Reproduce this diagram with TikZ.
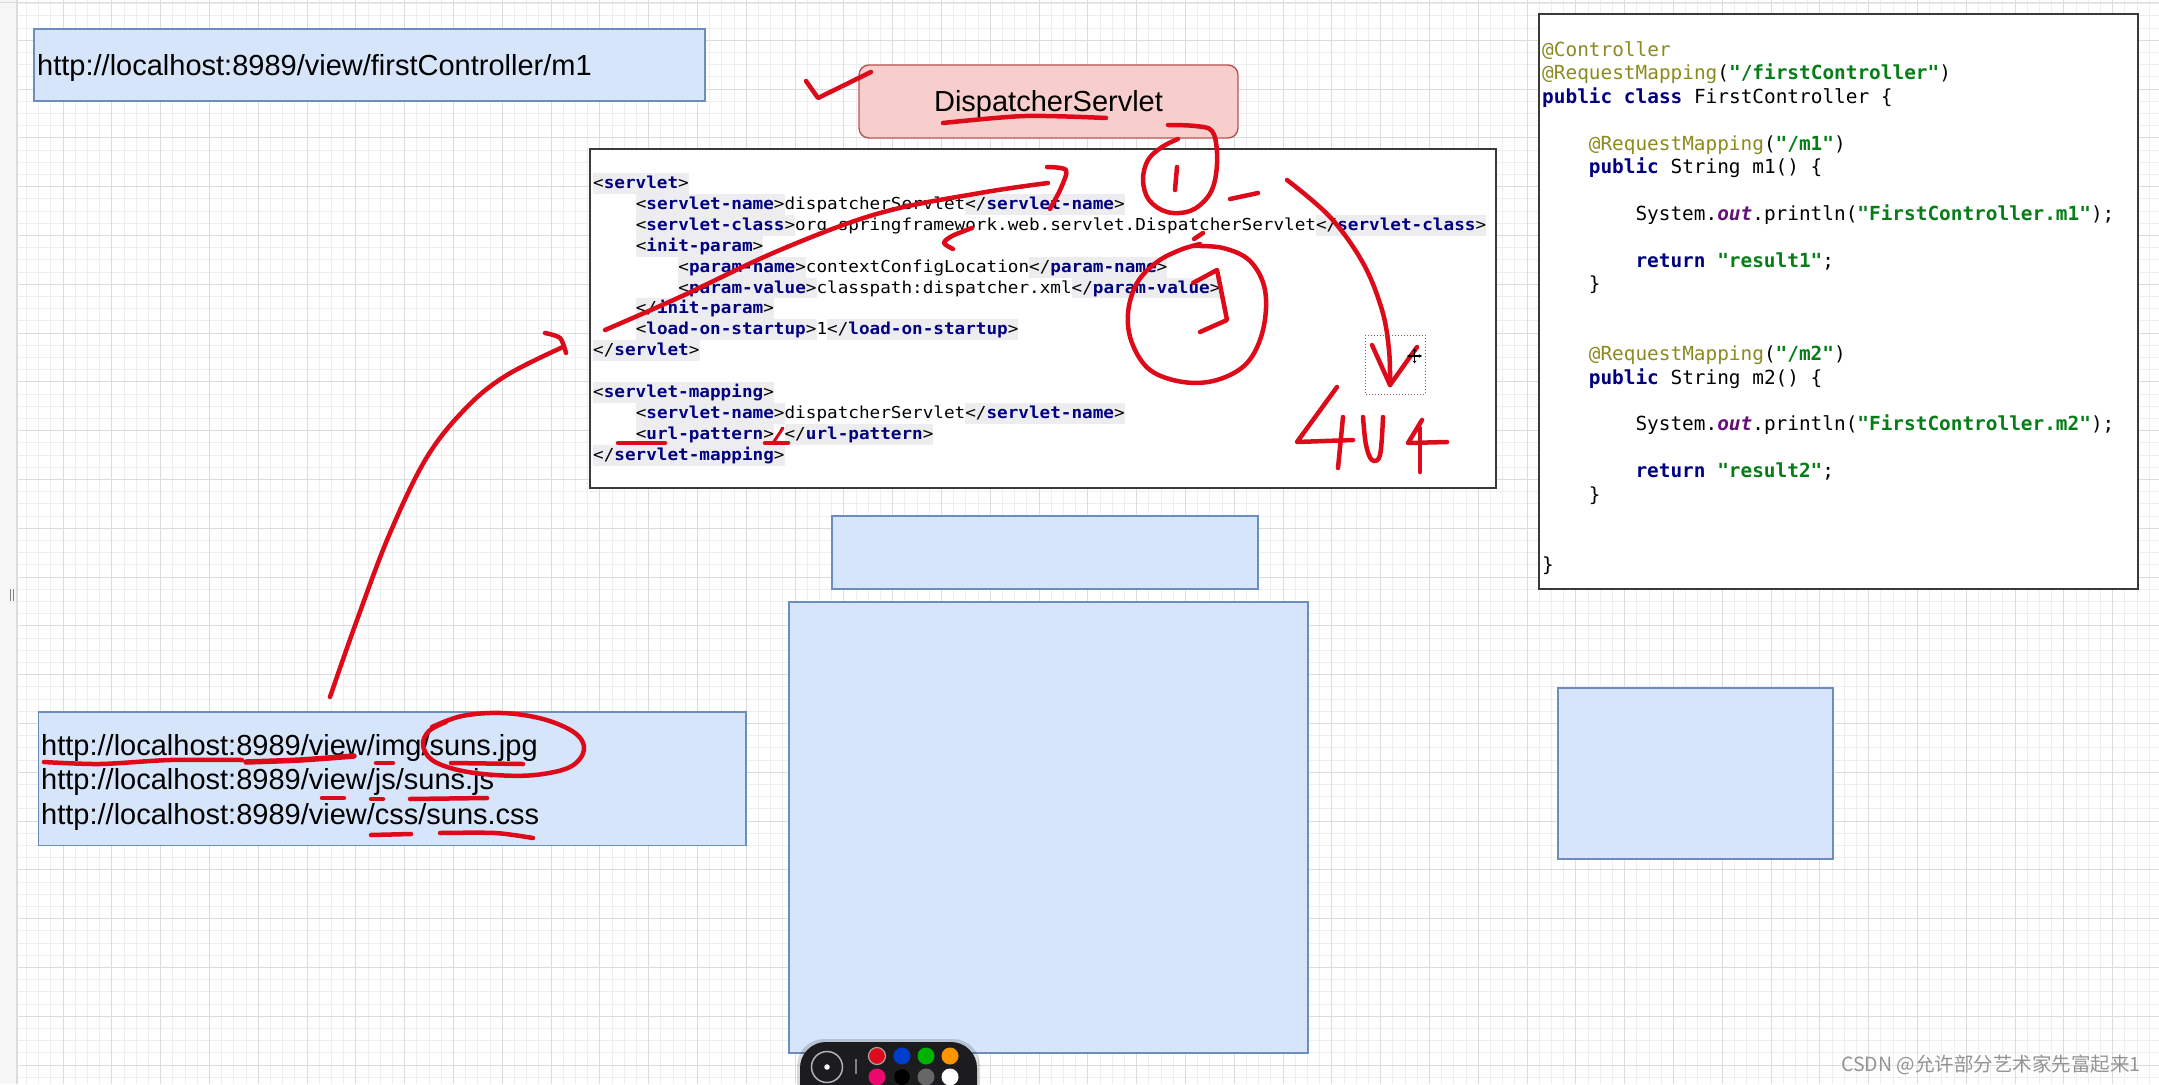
\documentclass[tikz,border=0pt]{standalone}
\usepackage{fontspec}
\setmainfont{Liberation Sans}
\newfontfamily\codefont{DejaVu Sans Mono}
\newfontfamily\xmlfont{DejaVu Sans Mono}[FakeStretch=1.07]
\newfontfamily\cjkfont{Noto Sans CJK SC}
\usetikzlibrary{arrows.meta}

\definecolor{gridMinor}{HTML}{EEEEEE}
\definecolor{gridMajor}{HTML}{DCDCDC}
\definecolor{stripCol}{HTML}{F6F6F6}
\definecolor{blueFill}{HTML}{D6E5FA}
\definecolor{blueBorder}{HTML}{6C8EBF}
\definecolor{pinkFill}{HTML}{F8CECC}
\definecolor{pinkBorder}{HTML}{B85450}
\definecolor{panelBorder}{HTML}{3A3A3A}
\definecolor{inkRed}{HTML}{DD0A1A}
\definecolor{tagBg}{HTML}{EDEDF0}
\definecolor{tagCol}{HTML}{000080}
\definecolor{kwCol}{HTML}{000080}
\definecolor{annCol}{HTML}{8C8A1E}
\definecolor{strCol}{HTML}{067D17}
\definecolor{fldCol}{HTML}{660E7A}
\definecolor{barCol}{HTML}{1C1C1E}

\newcommand{\xStrut}{\rule[-5.4pt]{0pt}{20.9pt}}
\newcommand{\xO}[1]{{\setlength{\fboxsep}{0pt}\colorbox{tagBg}{\xStrut<\textcolor{tagCol}{\bfseries #1}>}}}
\newcommand{\xC}[1]{{\setlength{\fboxsep}{0pt}\colorbox{tagBg}{\xStrut</\textcolor{tagCol}{\bfseries #1}>}}}
\newcommand{\cKw}[1]{\textcolor{kwCol}{\bfseries #1}}
\newcommand{\cAnn}[1]{\textcolor{annCol}{#1}}
\newcommand{\cStr}[1]{\textcolor{strCol}{\bfseries #1}}
\newcommand{\cFld}[1]{\textcolor{fldCol}{\bfseries\itshape #1}}

\begin{document}
\begin{tikzpicture}[x=1pt,y=-1pt,
  gridminor/.style={draw=gridMinor, line width=0.8pt},
  gridmajor/.style={draw=gridMajor, line width=1pt},
  bluebox/.style={draw=blueBorder, fill=blueFill, line width=1.4pt, inner sep=0pt, outer sep=0pt},
  pinkbox/.style={draw=pinkBorder, fill=pinkFill, line width=1.4pt, rounded corners=10pt, inner sep=0pt},
  panel/.style={draw=panelBorder, fill=white, line width=1.6pt, inner sep=0pt},
  urltext/.style={inner sep=0pt, anchor=base west, font=\fontsize{29}{34.5}\selectfont, text=black},
  xmlline/.style={inner sep=0pt, anchor=base west, font=\xmlfont\fontsize{16.5}{20.9}\selectfont},
  codeline/.style={inner sep=0pt, anchor=base west, font=\codefont\fontsize{19.4}{23.4}\selectfont},
  ink/.style={draw=inkRed, line width=4.5pt, line cap=round, line join=round},
  selrect/.style={draw=inkRed!45!gray, dotted, line width=1pt},
  cursor/.style={draw=black, line width=1.3pt, {Stealth[length=3pt,width=3.5pt]}-{Stealth[length=3pt,width=3.5pt]}},
  dot/.style={circle, inner sep=0pt, minimum size=17pt}
]
\clip (0,0) rectangle (2159,1084);
\fill[white] (0,0) rectangle (2159,1084);

% ---------- canvas grid ----------
\fill[stripCol] (0,0) rectangle (17,1084);
\foreach \i in {1,...,176} {\draw[gridminor] ({14.2+12.2*\i},0) -- ({14.2+12.2*\i},1084);}
\foreach \j in {1,...,90} {\draw[gridminor] (17,{-8.6+12.2*\j}) -- (2159,{-8.6+12.2*\j});}
\foreach \i in {0,...,43} {\draw[gridmajor] ({63+48.8*\i},0) -- ({63+48.8*\i},1084);}
\foreach \j in {-1,...,20} {\draw[gridmajor] (17,{89+48.8*\j}) -- (2159,{89+48.8*\j});}
\draw[gridMajor, line width=1.2pt] (17,0) -- (17,1084);
\draw[gridMajor, line width=1pt] (0,2) -- (2159,2);
\draw[gray, line width=1pt] (10.5,589) -- (10.5,601) (13.5,589) -- (13.5,601);

% ---------- boxes ----------
\node[bluebox, minimum width=671pt, minimum height=72pt] (urlTop) at (369.5,65) {};
\node[pinkbox, minimum width=379pt, minimum height=73pt] (ds) at (1048.5,101.5) {};
\node[panel, minimum width=906pt, minimum height=339pt] (xmlBox) at (1043,318.5) {};
\node[panel, minimum width=599pt, minimum height=575pt] (codeBox) at (1838.5,301.5) {};
\node[bluebox, minimum width=426pt, minimum height=73pt] (midSmall) at (1045,552.5) {};
\node[bluebox, minimum width=519pt, minimum height=451pt] (bigBox) at (1048.5,827.5) {};
\node[bluebox, minimum width=275pt, minimum height=171pt] (rightBox) at (1695.5,773.5) {};
\node[bluebox, minimum width=707.5pt, minimum height=133.5pt] (urlBottom) at (392.25,778.75) {};

% ---------- texts ----------
\node[urltext] (urlTopText) at (37,75) {http://localhost:8989/view/firstController/m1};
\node[urltext, anchor=base] (dsText) at (1048.5,111.7) {DispatcherServlet};
\node[urltext] (urlB1) at (41,755.5) {http://localhost:8989/view/img/suns.jpg};
\node[urltext] (urlB2) at (41,789.5) {http://localhost:8989/view/js/suns.js};
\node[urltext] (urlB3) at (41,824) {http://localhost:8989/view/css/suns.css};

% XML
\node[xmlline] (xl0) at (593,188.5) {\xO{servlet}};
\node[xmlline] (xl1) at (635.6,209.4) {\xO{servlet-name}dispatcherServlet\xC{servlet-name}};
\node[xmlline] (xl2) at (635.6,230.3) {\xO{servlet-class}org.springframework.web.servlet.DispatcherServlet\xC{servlet-class}};
\node[xmlline] (xl3) at (635.6,251.2) {\xO{init-param}};
\node[xmlline] (xl4) at (678.2,272.1) {\xO{param-name}contextConfigLocation\xC{param-name}};
\node[xmlline] (xl5) at (678.2,293) {\xO{param-value}classpath:dispatcher.xml\xC{param-value}};
\node[xmlline] (xl6) at (635.6,313.9) {\xC{init-param}};
\node[xmlline] (xl7) at (635.6,334.8) {\xO{load-on-startup}1\xC{load-on-startup}};
\node[xmlline] (xl8) at (593,355.7) {\xC{servlet}};
\node[xmlline] (xl10) at (593,397.5) {\xO{servlet-mapping}};
\node[xmlline] (xl11) at (635.6,418.4) {\xO{servlet-name}dispatcherServlet\xC{servlet-name}};
\node[xmlline] (xl12) at (635.6,439.3) {\xO{url-pattern}/\xC{url-pattern}};
\node[xmlline] (xl13) at (593,460.2) {\xC{servlet-mapping}};

% Java
\node[codeline] (cl0) at (1542,56.5) {\cAnn{@Controller}};
\node[codeline] (cl1) at (1542,79.9) {\cAnn{@RequestMapping}(\cStr{"/firstController"})};
\node[codeline] (cl2) at (1542,103.3) {\cKw{public class} FirstController \{};
\node[codeline] (cl4) at (1588.6,150.1) {\cAnn{@RequestMapping}(\cStr{"/m1"})};
\node[codeline] (cl5) at (1588.6,173.5) {\cKw{public} String m1() \{};
\node[codeline] (cl7) at (1635.3,220.3) {System.\cFld{out}.println(\cStr{"FirstController.m1"});};
\node[codeline] (cl9) at (1635.3,267.1) {\cKw{return} \cStr{"result1"};};
\node[codeline] (cl10) at (1588.6,290.5) {\}};
\node[codeline] (cl13) at (1588.6,360.7) {\cAnn{@RequestMapping}(\cStr{"/m2"})};
\node[codeline] (cl14) at (1588.6,384.1) {\cKw{public} String m2() \{};
\node[codeline] (cl16) at (1635.3,430.9) {System.\cFld{out}.println(\cStr{"FirstController.m2"});};
\node[codeline] (cl18) at (1635.3,477.7) {\cKw{return} \cStr{"result2"};};
\node[codeline] (cl19) at (1588.6,501.1) {\}};
\node[codeline] (cl22) at (1542,571.3) {\}};

% ---------- red ink annotations ----------
\draw[ink] (806,81) -- (818,98) -- (871,72);
\draw[ink] plot[smooth] coordinates {(943,123) (1025,116) (1106,118)};

\coordinate (xa1) at (605,330);
\coordinate (xa2) at (1048,183);
\draw[ink] plot[smooth, tension=0.6] coordinates {(xa1) (680,297) (780,250) (880,213) (980,193) (xa2)};
\draw[ink] plot[smooth, tension=0.5] coordinates {(1047,167) (1066,170) (1061,188) (1050,209)};
\draw[ink] plot[smooth] coordinates {(972,228) (952,236) (944,243) (953,249)};

\draw[ink] plot[smooth, tension=0.6] coordinates {(1168,125) (1195,126) (1212,131) (1217,153) (1215,180) (1207,198) (1190,211) (1167,212) (1149,200) (1143,180) (1148,160) (1162,147) (1178,139)};
\draw[ink] (1177,167) -- (1175,190);
\draw[ink] (1230,199) -- (1258,193);

\coordinate (ra1) at (1287,180);
\coordinate (ra2) at (1390,385);
\draw[ink] plot[smooth, tension=0.6] coordinates {(ra1) (1330,217) (1363,263) (1382,310) (1389,350) (ra2)};
\draw[ink] (1372,345) -- (ra2) -- (1417,347);
\draw[selrect] (1365,335) rectangle (1425,394);
\draw[cursor] (1407,356) -- (1422,356);
\draw[cursor] (1414.5,348.5) -- (1414.5,363.5);

\draw[ink] (1337,387) -- (1297,442) -- (1353,440);
\draw[ink] (1343,417) -- (1338,468);
\draw[ink] plot[smooth, tension=0.6] coordinates {(1363,417) (1366,445) (1372,460) (1380,455) (1383,417)};
\draw[ink] (1422,420) -- (1408,443) -- (1447,442);
\draw[ink] (1420,428) -- (1420,472);

\draw[ink] (1203,233) -- (1194,239);
\draw[ink] plot[smooth, tension=0.6] coordinates {(1193,246) (1223,248) (1250,261) (1265,290) (1263,330) (1247,363) (1217,380) (1183,382) (1150,370) (1132,343) (1128,313) (1137,283) (1157,262) (1180,250) (1200,244)};
\draw[ink] (1193,283) -- (1217,270) -- (1227,320) -- (1200,332);

\draw[ink] (618,443) -- (665,443);
\draw[ink] (765,443) -- (788,443);
\draw[ink, line width=3pt] (783,428) -- (773,443);

\coordinate (ba1) at (330,697);
\coordinate (ba2) at (563,347);
\draw[ink] plot[smooth, tension=0.6] coordinates {(ba1) (357,620) (390,533) (427,457) (467,407) (507,375) (ba2)};
\draw[ink] plot[smooth, tension=0.5] coordinates {(545,333) (560,338) (566,353)};

\draw[ink] plot[smooth, tension=0.6] coordinates {(432,727) (462,716) (502,713) (543,719) (575,733) (584,750) (570,767) (535,775) (495,775) (458,770) (432,760) (423,745) (429,731) (446,722)};
\draw[ink] plot[smooth] coordinates {(44,762) (100,764) (170,760) (242,760)};
\draw[ink, line width=5.5pt] plot[smooth] coordinates {(246,762) (300,760) (354,756)};
\draw[ink] (376,763) -- (393,763);
\draw[ink] (451,763) -- (523,764);
\draw[ink] (322,798) -- (344,798);
\draw[ink] (371,799) -- (383,799);
\draw[ink] (410,799) -- (487,798);
\draw[ink] (371,835) -- (411,834);
\draw[ink] plot[smooth] coordinates {(440,833) (495,833) (533,838)};

% ---------- drawing toolbar ----------
\fill[black, opacity=0.15, rounded corners=27pt] (797,1039) rectangle (980,1115);
\fill[barCol, rounded corners=26pt] (800,1042) rectangle (977,1112);
\node[circle, draw=gray!60, line width=1.5pt, minimum size=31pt, inner sep=0pt] (tbRing) at (827,1067) {};
\node[circle, fill=white, minimum size=5.5pt, inner sep=0pt] (tbDot) at (tbRing.center) {};
\draw[gray, line width=1.5pt] (856,1059) -- (856,1074);
\node[dot, fill=inkRed, draw=gray!70, line width=1.2pt] (cRed) at (877,1056) {};
\node[dot, fill=blue!70!cyan!80!black] (cBlue) at (902,1056) {};
\node[dot, fill=green!70!black] (cGreen) at (926,1056) {};
\node[dot, fill=orange!85!yellow] (cOrange) at (950,1056) {};
\node[dot, fill=magenta!70!red] (cPink) at (877,1077) {};
\node[dot, fill=black, draw=gray!40!black] (cBlack) at (902,1077) {};
\node[dot, fill=gray!80!black] (cGray) at (926,1077) {};
\node[dot, fill=white] (cWhite) at (950,1077) {};

% ---------- watermark ----------
\node[anchor=west, inner sep=0pt, text=gray!85, font=\cjkfont\fontsize{19.5}{22}\selectfont] (wm) at (1841,1065) {CSDN @允许部分艺术家先富起来1};
\end{tikzpicture}
\end{document}
